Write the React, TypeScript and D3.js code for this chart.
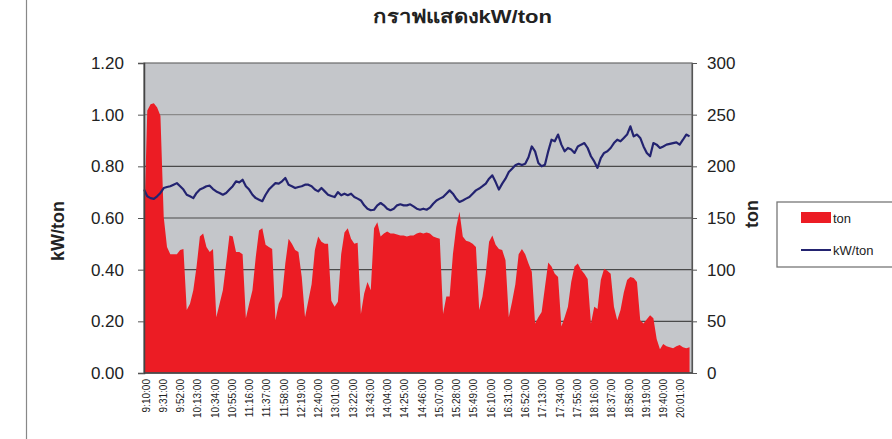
import React, { useEffect, useRef } from "react";
import * as d3 from "d3";

const W = 892, H = 439;

// category labels, one every 21 minutes starting 9:10
const timeLabels = [
  "9:10:00", "9:31:00", "9:52:00", "10:13:00", "10:34:00", "10:55:00", "11:16:00", "11:37:00",
  "11:58:00", "12:19:00", "12:40:00", "13:01:00", "13:22:00", "13:43:00", "14:04:00", "14:25:00",
  "14:46:00", "15:07:00", "15:28:00", "15:49:00", "16:10:00", "16:31:00", "16:52:00", "17:13:00",
  "17:34:00", "17:55:00", "18:16:00", "18:37:00", "18:58:00", "19:19:00", "19:40:00", "20:01:00",
];
const labelStep = 21; // minutes between labels
const sampleStep = 4; // minutes between readings below
const totalMinutes = 667;

// ton, read every 4 minutes from 9:10
const tonValues = [
  138, 254, 260, 261, 257, 249, 151, 122, 115, 115,
  115, 119, 120, 61, 67, 80, 103, 132, 135, 122,
  117, 120, 54, 67, 80, 106, 133, 132, 117, 117,
  115, 53, 67, 80, 112, 138, 140, 124, 122, 120,
  51, 67, 74, 106, 130, 125, 119, 117, 93, 54,
  70, 86, 119, 132, 127, 125, 125, 70, 64, 69,
  115, 136, 140, 130, 125, 126, 57, 77, 88, 80,
  140, 146, 132, 135, 137, 135, 135, 134, 133, 133,
  132, 133, 133, 135, 136, 135, 136, 135, 132, 131,
  130, 57, 74, 74, 115, 141, 156, 132, 128, 127,
  125, 122, 61, 74, 96, 127, 133, 124, 120, 119,
  109, 54, 69, 86, 115, 120, 115, 106, 98, 48,
  54, 59, 83, 107, 103, 96, 93, 45, 54, 64,
  88, 103, 106, 100, 96, 91, 48, 64, 62, 90,
  101, 99, 96, 64, 51, 61, 78, 90, 93, 92,
  88, 51, 48, 52, 56, 53, 33, 23, 28, 26,
  25, 24, 26, 27, 25, 24, 25,
];

// kW/ton, same timestamps
const kwValues = [
  0.71, 0.684, 0.677, 0.674, 0.684, 0.697, 0.716, 0.72, 0.723, 0.729,
  0.735, 0.723, 0.71, 0.69, 0.684, 0.677, 0.697, 0.71, 0.716, 0.723,
  0.725, 0.712, 0.703, 0.697, 0.69, 0.697, 0.71, 0.723, 0.742, 0.738,
  0.748, 0.723, 0.71, 0.69, 0.677, 0.671, 0.665, 0.69, 0.71, 0.723,
  0.735, 0.733, 0.742, 0.755, 0.729, 0.723, 0.716, 0.72, 0.723, 0.729,
  0.729, 0.723, 0.71, 0.703, 0.716, 0.703, 0.69, 0.685, 0.681, 0.70,
  0.688, 0.694, 0.688, 0.694, 0.681, 0.675, 0.668, 0.649, 0.636, 0.63,
  0.632, 0.649, 0.658, 0.649, 0.636, 0.63, 0.636, 0.649, 0.653, 0.649,
  0.649, 0.653, 0.645, 0.636, 0.632, 0.636, 0.632, 0.64, 0.655, 0.668,
  0.675, 0.681, 0.694, 0.707, 0.694, 0.675, 0.662, 0.668, 0.675, 0.681,
  0.694, 0.707, 0.714, 0.723, 0.733, 0.752, 0.765, 0.739, 0.71, 0.733,
  0.752, 0.778, 0.791, 0.804, 0.81, 0.805, 0.81, 0.835, 0.877, 0.858,
  0.813, 0.80, 0.806, 0.858, 0.903, 0.897, 0.923, 0.884, 0.858, 0.871,
  0.865, 0.852, 0.877, 0.884, 0.89, 0.871, 0.839, 0.819, 0.794, 0.832,
  0.852, 0.858, 0.871, 0.89, 0.903, 0.897, 0.91, 0.923, 0.955, 0.916,
  0.923, 0.91, 0.877, 0.852, 0.839, 0.89, 0.884, 0.871, 0.877, 0.884,
  0.887, 0.89, 0.893, 0.884, 0.903, 0.923, 0.916,
];

const kwTicks = [0, 0.2, 0.4, 0.6, 0.8, 1.0, 1.2];
const tonTicks = [0, 50, 100, 150, 200, 250, 300];

const FONT = "'Liberation Sans', Arial, 'Noto Sans', sans-serif";
const RED = "#ec1c24";
const NAVY = "#232370";

const App = () => {
  const ref = useRef<SVGSVGElement>(null);

  useEffect(() => {
    const svg = d3.select(ref.current);
    svg.selectAll("*").remove();

    const plot = { left: 144, right: 692, top: 63, bottom: 373 };
    const x = d3.scaleLinear([0, totalMinutes], [plot.left, plot.right]);
    const yKw = d3.scaleLinear([0, 1.2], [plot.bottom, plot.top]);
    const yTon = d3.scaleLinear([0, 300], [plot.bottom, plot.top]);

    svg.append("rect").attr("width", W).attr("height", H).attr("fill", "#fff");
    // page edge line on the left
    svg.append("line").attr("x1", 26.5).attr("x2", 26.5).attr("y1", 0).attr("y2", H)
      .attr("stroke", "#888").attr("stroke-width", 1.2);

    svg.append("rect")
      .attr("x", plot.left).attr("y", plot.top)
      .attr("width", plot.right - plot.left).attr("height", plot.bottom - plot.top)
      .attr("fill", "#c4c6ca");

    // gridlines
    svg.append("g").selectAll("line").data(kwTicks.slice(1, -1)).join("line")
      .attr("x1", plot.left).attr("x2", plot.right)
      .attr("y1", d => yKw(d)).attr("y2", d => yKw(d))
      .attr("stroke", (d) => (d === 1.0 ? "#8a8a8a" : "#4a4a4a")).attr("stroke-width", 1.2);

    // ton area
    const area = d3.area<number>()
      .x((d, i) => x(i * sampleStep))
      .y0(yTon(0))
      .y1(d => yTon(d));
    svg.append("path").datum(tonValues).attr("d", area).attr("fill", RED);

    // kW/ton line
    const line = d3.line<number>()
      .x((d, i) => x(i * sampleStep))
      .y(d => yKw(d));
    svg.append("path").datum(kwValues).attr("d", line)
      .attr("fill", "none").attr("stroke", NAVY).attr("stroke-width", 2.2)
      .attr("stroke-linejoin", "round");

    // frame
    svg.append("rect")
      .attr("x", plot.left).attr("y", plot.top)
      .attr("width", plot.right - plot.left).attr("height", plot.bottom - plot.top)
      .attr("fill", "none").attr("stroke", "#6a6a6a").attr("stroke-width", 1.2);

    // left axis
    const left = svg.append("g").attr("transform", `translate(${plot.left},0)`)
      .call(d3.axisLeft(yKw).tickValues(kwTicks).tickFormat(d3.format(".2f")).tickSize(6).tickPadding(14));
    left.select(".domain").attr("stroke", "#444").attr("stroke-width", 1.5);
    left.selectAll(".tick line").attr("stroke", "#555");
    left.selectAll("text").attr("font-family", FONT).attr("font-size", 17).attr("fill", "#222");

    // right axis
    const right = svg.append("g").attr("transform", `translate(${plot.right},0)`)
      .call(d3.axisRight(yTon).tickValues(tonTicks).tickSize(5).tickPadding(10));
    right.select(".domain").attr("stroke", "#555").attr("stroke-width", 1.2);
    right.selectAll(".tick line").attr("stroke", "#555");
    right.selectAll("text").attr("font-family", FONT).attr("font-size", 17).attr("fill", "#222");

    // bottom axis line
    svg.append("line").attr("x1", plot.left).attr("x2", plot.right)
      .attr("y1", plot.bottom).attr("y2", plot.bottom)
      .attr("stroke", "#444").attr("stroke-width", 1.5);

    // rotated time labels
    svg.append("g").selectAll("text").data(timeLabels).join("text")
      .attr("transform", (d, i) => `translate(${x(i * labelStep) + 2},379) rotate(-90)`)
      .attr("text-anchor", "end").attr("dominant-baseline", "central")
      .attr("font-family", FONT).attr("font-size", 10).attr("fill", "#222")
      .text(d => d);

    // titles
    svg.append("text").attr("x", 373).attr("y", 23)
      .attr("textLength", 179).attr("lengthAdjust", "spacingAndGlyphs")
      .attr("font-family", FONT).attr("font-size", 19).attr("font-weight", "bold").attr("fill", "#222")
      .text("กราฟแสดงkW/ton");
    svg.append("text").attr("transform", "translate(64,231) rotate(-90)").attr("text-anchor", "middle")
      .attr("font-family", FONT).attr("font-size", 18).attr("font-weight", "bold").attr("fill", "#222")
      .text("kW/ton");
    svg.append("text").attr("transform", "translate(758,214) rotate(-90)").attr("text-anchor", "middle")
      .attr("font-family", FONT).attr("font-size", 18).attr("font-weight", "bold").attr("fill", "#222")
      .text("ton");

    // legend
    const lg = svg.append("g");
    lg.append("rect").attr("x", 777).attr("y", 202).attr("width", 130).attr("height", 65)
      .attr("fill", "#fff").attr("stroke", "#777").attr("stroke-width", 1.3);
    lg.append("rect").attr("x", 801).attr("y", 212).attr("width", 30).attr("height", 11).attr("fill", RED);
    lg.append("line").attr("x1", 801).attr("x2", 831).attr("y1", 250).attr("y2", 250)
      .attr("stroke", NAVY).attr("stroke-width", 2);
    lg.append("text").attr("x", 833).attr("y", 218).attr("dominant-baseline", "central")
      .attr("font-family", FONT).attr("font-size", 13).attr("fill", "#222").text("ton");
    lg.append("text").attr("x", 833).attr("y", 250).attr("dominant-baseline", "central")
      .attr("font-family", FONT).attr("font-size", 13).attr("fill", "#222").text("kW/ton");
  }, []);

  return (
    <svg ref={ref} width={W} height={H}
      style={{ position: "absolute", left: 0, top: 0, display: "block" }} />
  );
};

export default App;
